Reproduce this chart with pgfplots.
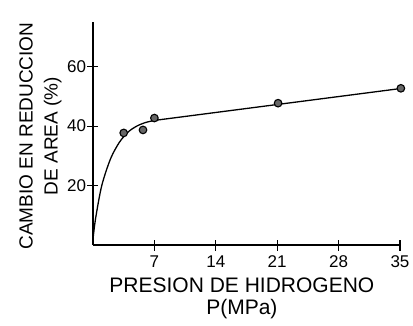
\documentclass[border=0pt]{standalone}
\usepackage{pgfplots}
\pgfplotsset{compat=1.18}
\usepackage{fontspec}
\setmainfont{Liberation Sans}
\begin{document}
\begin{tikzpicture}[x=1pt,y=1pt]
\begin{axis}[
  name=ax,
  width=307pt, height=223pt, scale only axis,
  xmin=0, xmax=35, ymin=0, ymax=75,
  clip=false,
  axis lines=left,
  axis line style={-, line width=1.3pt, black},
  xtick={7,14,21,28,35},
  ytick={20,40,60},
  tick align=center,
  major tick length=11pt,
  tick style={line width=1.1pt, black},
  /pgf/number format/assume math mode=true,
  ticklabel style={font=\fontsize{17}{20}\selectfont},
  xticklabel style={yshift=-2pt},
  yticklabel style={xshift=2pt},
  xlabel={PRESION DE HIDROGENO\\P(MPa)},
  xlabel style={align=center, font=\fontsize{21}{22}\selectfont, at={(axis description cs:0.485,-0.237)}, anchor=center},
  ylabel={CAMBIO EN REDUCCION\\DE AREA (\%)},
  ylabel style={align=center, font=\fontsize{19}{25}\selectfont, at={(axis description cs:-0.171,0.489)}, anchor=center},
]
\addplot[black, line width=1.3pt, smooth, tension=0.5] coordinates {
 (0,2) (0.3,9) (1,20) (2,29) (3,34.5) (4,38) (5,40) (6,41.2) (7,41.9)
};
\addplot[black, line width=1.3pt] coordinates {(7,41.9) (35,52.6)};
\addplot[only marks, mark=*, mark size=3.8pt, mark options={fill=black!60, draw=black, line width=1.1pt}] coordinates {
 (3.5,37.7) (5.7,38.7) (7.0,42.7) (21.1,47.7) (35.1,52.7)
};
\end{axis}
\pgfresetboundingbox
\path[use as bounding box] (ax.south west) ++(-93pt,-80pt) rectangle ++(413pt,325pt);
\end{tikzpicture}
\end{document}
